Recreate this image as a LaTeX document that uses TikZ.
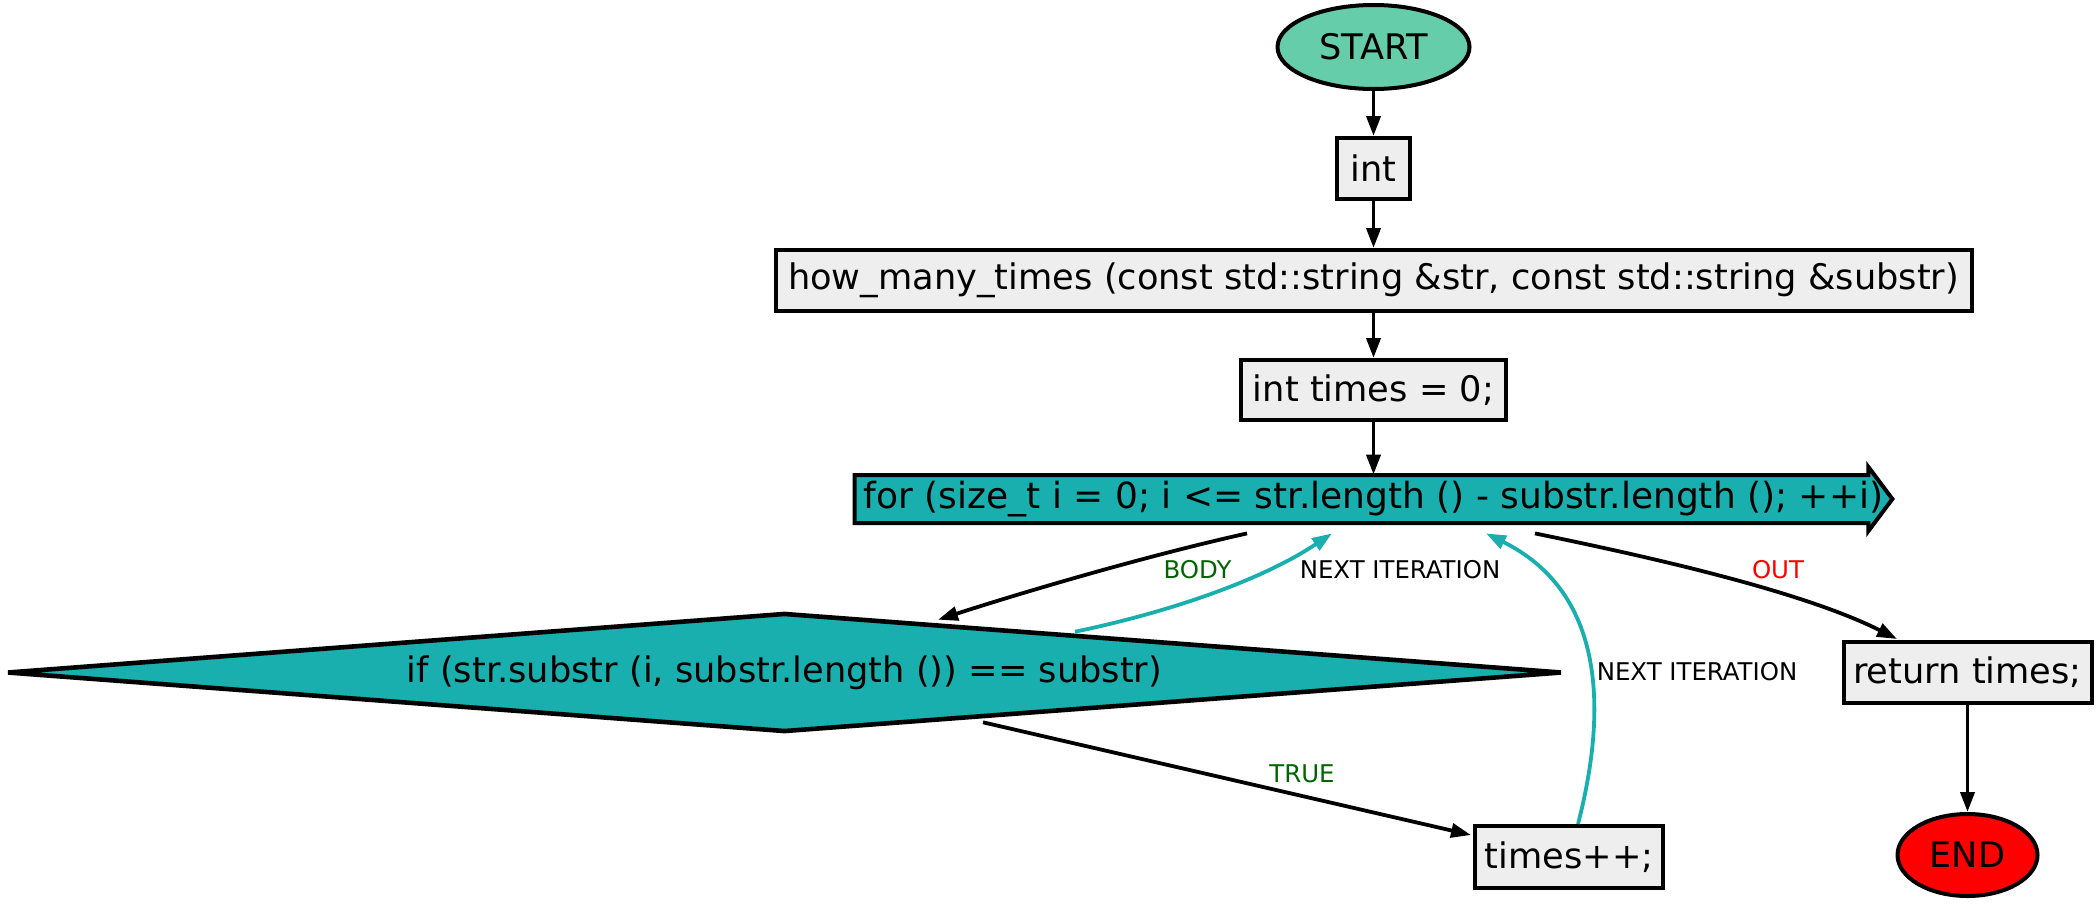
\documentclass[tikz,border=0pt]{standalone}
\usepackage{fontspec}
\setmainfont{DejaVu Sans}
\usetikzlibrary{shapes.geometric,arrows.meta,calc,backgrounds}
\definecolor{tealf}{HTML}{19AFAF}
\definecolor{startc}{HTML}{66CDAA}
\definecolor{boxgray}{HTML}{EEEEEE}
\definecolor{lblgreen}{HTML}{006400}
\tikzset{
  mainfont/.style={font=\fontsize{17.6}{20}\selectfont},
  box/.style={draw, rectangle, line width=2pt, fill=boxgray, inner sep=0pt, mainfont},
  term/.style={draw, ellipse, line width=2pt, inner sep=0pt, mainfont},
  edge/.style={line width=1.9pt, -{Triangle[length=10pt,width=7pt]}},
  loopedge/.style={edge, draw=tealf},
  lbl/.style={font=\fontsize{12.2}{14}\selectfont, inner sep=0pt},
}
\begin{document}
\begin{tikzpicture}[x=0.5pt,y=-0.5pt]
\useasboundingbox (0,0) rectangle (2099,906);

% nodes
\node[term, fill=startc, minimum width=96pt, minimum height=42pt] (start) at (1373.5,47) {START};
\node[box, minimum width=36.5pt, minimum height=30.5pt] (int) at (1373.5,168.5) {int};
\node[box, minimum width=598pt, minimum height=30.5pt] (how) at (1373.5,280.5) {how\_many\_times (const std::string \&str, const std::string \&substr)};
\node[box, minimum width=132.5pt, minimum height=30pt] (init) at (1373.5,390) {int times = 0;};
\node[inner sep=0pt, minimum width=518.5pt, minimum height=32pt, font=\fontsize{18}{20}\selectfont] (for) at (1373.5,499) {for (size\_t i = 0; i <= str.length () - substr.length (); ++i)};
\begin{scope}[on background layer]
\filldraw[fill=tealf, line width=2pt, line join=miter]
  ($(for.west)+(0,-24)$) -- ($(for.east)+(-24,-24)$) -- ($(for.east)+(-24,-32)$)
  -- (for.east) -- ($(for.east)+(-24,32)$) -- ($(for.east)+(-24,24)$)
  -- ($(for.west)+(0,24)$) -- cycle;
\end{scope}
\node[diamond, draw, line width=2.3pt, fill=tealf, aspect=13, minimum width=777.5pt, minimum height=59.5pt, inner sep=0pt, mainfont] (cond) at (784.5,672.5) {if (str.substr (i, substr.length ()) == substr)};
\node[box, minimum width=94pt, minimum height=31pt] (inc) at (1569,857) {times++;};
\node[box, minimum width=124pt, minimum height=30.5pt] (ret) at (1967.5,672.5) {return times;};
\node[term, fill=red, minimum width=70pt, minimum height=41pt] (end) at (1967.5,855) {END};

% labels
\node[lbl, text=lblgreen] (lbody) at (1197.5,570) {BODY};
\node[lbl] (lnext1) at (1400,570) {NEXT ITERATION};
\node[lbl] (lnext2) at (1697,672) {NEXT ITERATION};
\node[lbl, text=red] (lout) at (1778,570) {OUT};
\node[lbl, text=lblgreen] (ltrue) at (1302,774) {TRUE};

% edges
\draw[edge] (start) -- (int);
\draw[edge] (int) -- (how);
\draw[edge] (how) -- (init);
\draw[edge] (init) -- ($(for.north)+(0,8)$);
\draw[edge] ($(for.south)+(-126.5,2)$) .. controls (1150,555) and (1030,590) .. ($(cond.north)+(153.5,9)$);
\draw[loopedge] ($(cond.north)+(290.5,21)$) .. controls (1170,612) and (1262,580) .. ($(for.south)+(-41.5,2)$);
\draw[loopedge] ($(inc.north)+(9,0)$) .. controls (1610,700) and (1600,590) .. ($(for.south)+(112.5,2)$);
\draw[edge] ($(for.south)+(161.5,2)$) .. controls (1640,555) and (1800,590) .. ($(ret.north)+(-70.5,-1)$);
\draw[edge] ($(cond.south)+(198.5,-12)$) -- ($(inc.west)+(-2,-22)$);
\draw[edge] (ret) -- (end);
\end{tikzpicture}
\end{document}
